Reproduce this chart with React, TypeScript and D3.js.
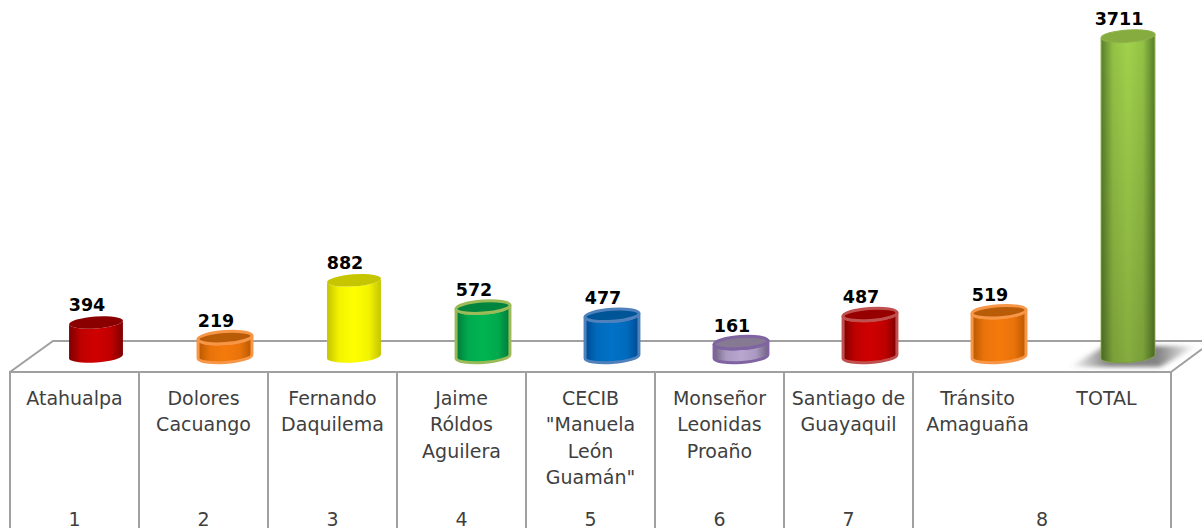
import React from "react";
import * as d3 from "d3";

const categories = [
  ["Atahualpa"],
  ["Dolores", "Cacuango"],
  ["Fernando", "Daquilema"],
  ["Jaime", "Róldos", "Aguilera"],
  ["CECIB", "\"Manuela", "León", "Guamán\""],
  ["Monseñor", "Leonidas", "Proaño"],
  ["Santiago de", "Guayaquil"],
  ["Tránsito", "Amaguaña"],
  ["TOTAL"],
];
const values = [394, 219, 882, 572, 477, 161, 487, 519, 3711];
const groupLabels = ["1", "2", "3", "4", "5", "6", "7", "8"];
const edgeColors = ["#7d0000", "#b85800", "#c4c400", "#007a3a", "#004a94", "#6f6480", "#7d0000", "#b85800", "#587e2a"];
const midColors = ["#d00000", "#f57a0c", "#ffff00", "#00b552", "#0072c6", "#b9a6d0", "#d00000", "#f57a0c", "#a2d24c"];
const topColors = ["#8a0000", "#b85c08", "#c6c600", "#00853f", "#005597", "#857a92", "#960000", "#b85c08", "#86ac40"];
const strokeColors = ["none", "#f79646", "none", "#9bbb59", "#4f81bd", "#8064a2", "#c0504d", "#f79646", "#8cb04a"];

const W = 1202, H = 528;
const left = 10, right = 1171, front = 372, back = 341, depth = 43;
const x = d3.scaleBand<number>().domain(d3.range(values.length)).range([left, right]);
const y = d3.scaleLinear().domain([0, 3711]).range([356.5, 36]);
const tilt = -4, rx = 27, ry = 6;
const dx = rx * Math.cos((tilt * Math.PI) / 180);
const dy = rx * Math.sin((tilt * Math.PI) / 180);
const line = "#a0a0a0";
const textColor = "#3f3f3f";
const dividers = d3.range(values.length - 1).map((i) => x(i)!);

export default function App() {
  return (
    <svg width={W} height={H} viewBox={`0 0 ${W} ${H}`}
      style={{ position: "fixed", left: 0, top: 0, display: "block", background: "#fff" }}>
      <defs>
        {values.map((_, i) => (
          <linearGradient key={i} id={`g${i}`} x1="0" x2="1" y1="0" y2="0">
            <stop offset="0" stopColor={edgeColors[i]} />
            <stop offset="0.22" stopColor={d3.interpolateRgb(edgeColors[i], midColors[i])(0.8)} />
            <stop offset="0.5" stopColor={midColors[i]} />
            <stop offset="0.78" stopColor={d3.interpolateRgb(edgeColors[i], midColors[i])(0.8)} />
            <stop offset="1" stopColor={edgeColors[i]} />
          </linearGradient>
        ))}
        <linearGradient id="fade" x1="0" x2="0" y1="0" y2="1">
          <stop offset="0" stopColor="#000" stopOpacity="0" />
          <stop offset="1" stopColor="#000" stopOpacity="0.18" />
        </linearGradient>
        <linearGradient id="shadow" x1="0" x2="1" y1="0" y2="0">
          <stop offset="0" stopColor="#666" stopOpacity="0" />
          <stop offset="0.3" stopColor="#666" stopOpacity="0.8" />
          <stop offset="0.7" stopColor="#666" stopOpacity="0.8" />
          <stop offset="1" stopColor="#666" stopOpacity="0" />
        </linearGradient>
        <filter id="blur" x="-20%" y="-50%" width="140%" height="200%">
          <feGaussianBlur stdDeviation="3 2" />
        </filter>
      </defs>

      <g fill="none" stroke={line} strokeWidth={2}>
        <path d={`M${left},${front}L${left + depth},${back}H${W}`} />
        <path d={`M${left},${H}V${front}H${right}V${H}`} />
        <path d={`M${right},${front}L${W},${front - 23}`} />
        {dividers.map((d, i) => (i > 0 ? <path key={i} d={`M${d},${front}V${H}`} /> : null))}
      </g>

      <path d="M1070,367 L1105,346 L1196,346 L1160,367 Z" fill="url(#shadow)" filter="url(#blur)" />

      {values.map((v, i) => {
        const cx = x(i)! + x.bandwidth() / 2 + 21.5;
        const top = y(v);
        const base = y(0);
        const body = `M${cx - dx},${top - dy}L${cx - dx},${base - dy}A${rx},${ry} ${tilt} 0 0 ${cx + dx},${base + dy}L${cx + dx},${top + dy}A${rx},${ry} ${tilt} 0 1 ${cx - dx},${top - dy}Z`;
        const stroke = strokeColors[i];
        const sw = i === values.length - 1 ? 1 : 3;
        return (
          <g key={i}>
            <path d={body} fill={`url(#g${i})`} stroke={stroke} strokeWidth={sw} strokeLinejoin="round" />
            {i === values.length - 1 && <path d={body} fill="url(#fade)" />}
            <ellipse cx={cx} cy={top} rx={rx} ry={ry} transform={`rotate(${tilt} ${cx} ${top})`}
              fill={topColors[i]} stroke={stroke} strokeWidth={sw} />
            <text x={cx - 9} y={top - 11} textAnchor="middle" fontFamily="'DejaVu Sans', sans-serif"
              fontWeight={700} fontSize={17.5} fill="#000">{v}</text>
          </g>
        );
      })}

      <g fontFamily="'DejaVu Sans', sans-serif" fontSize={19} fill={textColor} textAnchor="middle">
        {categories.map((lines, i) => (
          <text key={i} x={x(i)! + x.bandwidth() / 2}>
            {lines.map((l, j) => (
              <tspan key={j} x={x(i)! + x.bandwidth() / 2} y={405 + j * 26.3}>{l}</tspan>
            ))}
          </text>
        ))}
        {groupLabels.map((l, i) => {
          const c = i < 7 ? x(i)! + x.bandwidth() / 2 : (x(7)! + right) / 2;
          return <text key={l} x={c} y={526}>{l}</text>;
        })}
      </g>
    </svg>
  );
}
